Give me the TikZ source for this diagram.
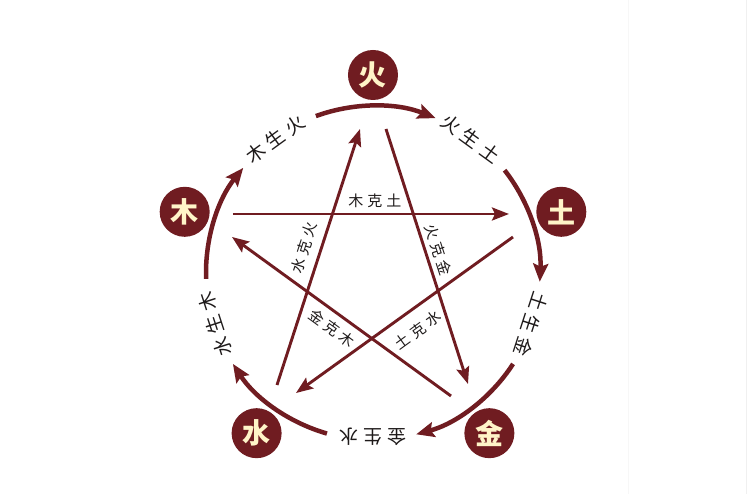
\documentclass[tikz,border=0pt]{standalone}
\usepackage{fontspec}
\newfontfamily\cjk{Noto Sans CJK SC}
\usetikzlibrary{arrows.meta}
\definecolor{maroon}{RGB}{112,28,33}
\definecolor{cream}{RGB}{255,244,200}
\definecolor{ink}{RGB}{30,26,26}
\begin{document}
\begin{tikzpicture}[x=1pt,y=1pt,
 elem/.style={circle, fill=maroon, minimum size=50pt, inner sep=0pt, text=cream, font=\cjk\bfseries\fontsize{28}{28}\selectfont},
 sheng/.style={text=ink, font=\cjk\fontsize{19}{19}\selectfont, inner sep=0pt},
 ke/.style={text=ink, font=\cjk\fontsize{15}{15}\selectfont, inner sep=0pt},
 cyc/.style={draw=maroon, line width=4.5pt, -{Stealth[length=18pt,width=15pt,inset=3pt]}},
 kel/.style={draw=maroon, line width=2.9pt, -{Stealth[length=17pt,width=13pt,inset=3pt]}},
]
\fill[white] (-373,-221) rectangle (375,273);
\useasboundingbox (-373,-221) rectangle (375,273);
\draw[black!3, line width=1pt] (256,-221) -- (256,273);
\draw[black!6, line width=1pt] (374,-221) -- (374,273);

% element circles
\node[elem] (huo) at (90:198) {火};
\node[elem] (tu) at (18:198) {土};
\node[elem] (jin) at (-54:198) {金};
\node[elem] (shui) at (-126:198) {水};
\node[elem] (mu) at (162:198) {木};

% generating labels
\node[sheng, rotate=36] (l1) at (126:166) {木\hspace{5pt}生\hspace{5pt}火};
\node[sheng, rotate=-36] (l2) at (54:166) {火\hspace{5pt}生\hspace{5pt}土};
\node[sheng, rotate=-108] (l3) at (-18:166) {土\hspace{5pt}生\hspace{5pt}金};
\node[sheng, rotate=-180] (l4) at (-90:164) {金\hspace{5pt}生\hspace{5pt}水};
\node[sheng, rotate=108] (l5) at (198:166) {水\hspace{5pt}生\hspace{5pt}木};

% generating arcs
\coordinate (a1) at (110:167);
\coordinate (a2) at (38:167);
\coordinate (a3) at (-33:167);
\coordinate (a4) at (-106:167);
\coordinate (a5) at (182:167);
\draw[cyc] (a1) arc[start angle=110, end angle=68, radius=167];
\draw[cyc] (a2) arc[start angle=38, end angle=-3, radius=167];
\draw[cyc] (a3) arc[start angle=-33, end angle=-75, radius=167];
\draw[cyc] (a4) arc[start angle=-106, end angle=-147, radius=167];
\draw[cyc] (a5) arc[start angle=182, end angle=141, radius=167];

% controlling star
\coordinate (muS) at (-140,59);   \coordinate (tuE) at (136,59);
\coordinate (huoS) at (13,144);   \coordinate (jinE) at (95,-111);
\coordinate (tuS) at (140,36);    \coordinate (shuiE) at (-77,-120);
\coordinate (jinS) at (78,-123);  \coordinate (muE) at (-141,36);
\coordinate (shuiS) at (-96,-112);\coordinate (huoE) at (-13,144);
\draw[kel] (muS) -- (tuE);
\draw[kel] (huoS) -- (jinE);
\draw[kel] (tuS) -- (shuiE);
\draw[kel] (jinS) -- (muE);
\draw[kel] (shuiS) -- (huoE);

% controlling labels
\node[ke] (k1) at (2,72) {木\hspace{4pt}克\hspace{4pt}土};
\node[ke, rotate=72] (k2) at (-69,25) {水\hspace{4pt}克\hspace{4pt}火};
\node[ke, rotate=-72] (k3) at (65,23) {火\hspace{4pt}克\hspace{4pt}金};
\node[ke, rotate=-36] (k4) at (-41,-55) {金\hspace{4pt}克\hspace{4pt}木};
\node[ke, rotate=36] (k5) at (45,-57) {土\hspace{4pt}克\hspace{4pt}水};
\end{tikzpicture}
\end{document}
